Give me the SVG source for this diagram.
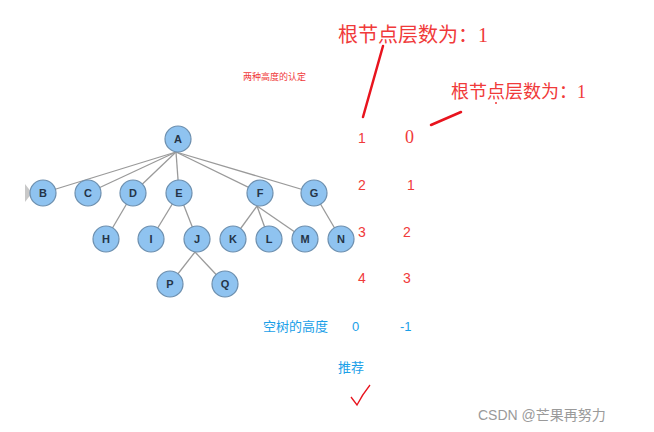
<svg xmlns="http://www.w3.org/2000/svg" width="654" height="432" viewBox="0 0 654 432">
<style>
.n circle{fill:#8fc3f0;stroke:#6d8fae;stroke-width:1.2}
.n text{font-family:"Liberation Sans",sans-serif;font-weight:bold;font-size:11px;fill:#243447;text-anchor:middle}
.e line{stroke:#9a9a9a;stroke-width:1.3}
.r{fill:#f03a3a;font-family:"Liberation Sans",sans-serif;font-size:14px}
.rs{fill:#f03a3a;font-family:"Liberation Serif","Noto Sans CJK SC",serif}
.b{fill:#1aa0e8;font-family:"Liberation Sans","Noto Sans CJK SC",sans-serif;font-size:13px}
</style>
<rect width="654" height="432" fill="#fff"/>
<polygon points="25,184 32,193 25,202" fill="#c8c8c8"/>
<g class="e" id="connectors">
<line x1="176" y1="152" x2="43" y2="193"/><line x1="176" y1="152" x2="88" y2="193"/><line x1="176" y1="152" x2="133" y2="193"/><line x1="176" y1="152" x2="179" y2="193"/><line x1="176" y1="152" x2="260" y2="193"/><line x1="176" y1="152" x2="314" y2="193"/>
<line x1="133" y1="193" x2="106" y2="239"/><line x1="179" y1="193" x2="151" y2="239"/><line x1="179" y1="193" x2="197" y2="239"/>
<line x1="257" y1="206" x2="233" y2="239"/><line x1="257" y1="206" x2="269" y2="239"/><line x1="257" y1="206" x2="305" y2="239"/><line x1="314" y1="193" x2="341" y2="239"/>
<line x1="195" y1="252" x2="170" y2="284"/><line x1="195" y1="252" x2="225" y2="284"/>
</g>
<g class="n" id="nA"><circle cx="178" cy="139" r="13"/><text x="178" y="143">A</text></g>
<g class="n" id="nB"><circle cx="43" cy="193" r="13"/><text x="43" y="197">B</text></g>
<g class="n" id="nC"><circle cx="88" cy="193" r="13"/><text x="88" y="197">C</text></g>
<g class="n" id="nD"><circle cx="133" cy="193" r="13"/><text x="133" y="197">D</text></g>
<g class="n" id="nE"><circle cx="179" cy="193" r="13"/><text x="179" y="197">E</text></g>
<g class="n" id="nF"><circle cx="260" cy="193" r="13"/><text x="260" y="197">F</text></g>
<g class="n" id="nG"><circle cx="314" cy="193" r="13"/><text x="314" y="197">G</text></g>
<g class="n" id="nH"><circle cx="106" cy="239" r="13"/><text x="106" y="243">H</text></g>
<g class="n" id="nI"><circle cx="151" cy="239" r="13"/><text x="151" y="243">I</text></g>
<g class="n" id="nJ"><circle cx="197" cy="239" r="13"/><text x="197" y="243">J</text></g>
<g class="n" id="nK"><circle cx="233" cy="239" r="13"/><text x="233" y="243">K</text></g>
<g class="n" id="nL"><circle cx="269" cy="239" r="13"/><text x="269" y="243">L</text></g>
<g class="n" id="nM"><circle cx="305" cy="239" r="13"/><text x="305" y="243">M</text></g>
<g class="n" id="nN"><circle cx="341" cy="239" r="13"/><text x="341" y="243">N</text></g>
<g class="n" id="nP"><circle cx="170" cy="284" r="13"/><text x="170" y="288">P</text></g>
<g class="n" id="nQ"><circle cx="225" cy="284" r="13"/><text x="225" y="288">Q</text></g>
<text class="rs" x="338" y="42" font-size="20">根节点层数为：1</text>
<text class="rs" x="451" y="98" font-size="18">根节点层数为：1</text>
<circle cx="496" cy="103" r="1" fill="#f03a3a"/>
<text x="243" y="80" fill="#f03a3a" font-family="'Liberation Sans','Noto Sans CJK SC',sans-serif" font-size="9">两种高度的认定</text>
<line x1="383" y1="46" x2="363" y2="117" stroke="#e8141e" stroke-width="2.5" stroke-linecap="round"/>
<line x1="431" y1="125" x2="461" y2="112" stroke="#e8141e" stroke-width="2.5" stroke-linecap="round"/>
<text class="r" x="358" y="143">1</text><text class="rs" x="405" y="143" font-size="18">0</text>
<text class="r" x="358" y="190">2</text><text class="r" x="407" y="190">1</text>
<text class="r" x="358" y="237">3</text><text class="r" x="403" y="237">2</text>
<text class="r" x="358" y="283">4</text><text class="r" x="403" y="283">3</text>
<text class="b" x="263" y="331">空树的高度</text><text class="b" x="352" y="331">0</text><text class="b" x="400" y="331">-1</text>
<text class="b" x="338" y="372">推荐</text>
<path d="M351,397 L357,405 Q362,395 370,385" fill="none" stroke="#e8141e" stroke-width="1.3"/>
<text x="478" y="420" fill="#9a9a9a" font-family="'Liberation Sans','Noto Sans CJK SC',sans-serif" font-size="14">CSDN @芒果再努力</text>
</svg>
